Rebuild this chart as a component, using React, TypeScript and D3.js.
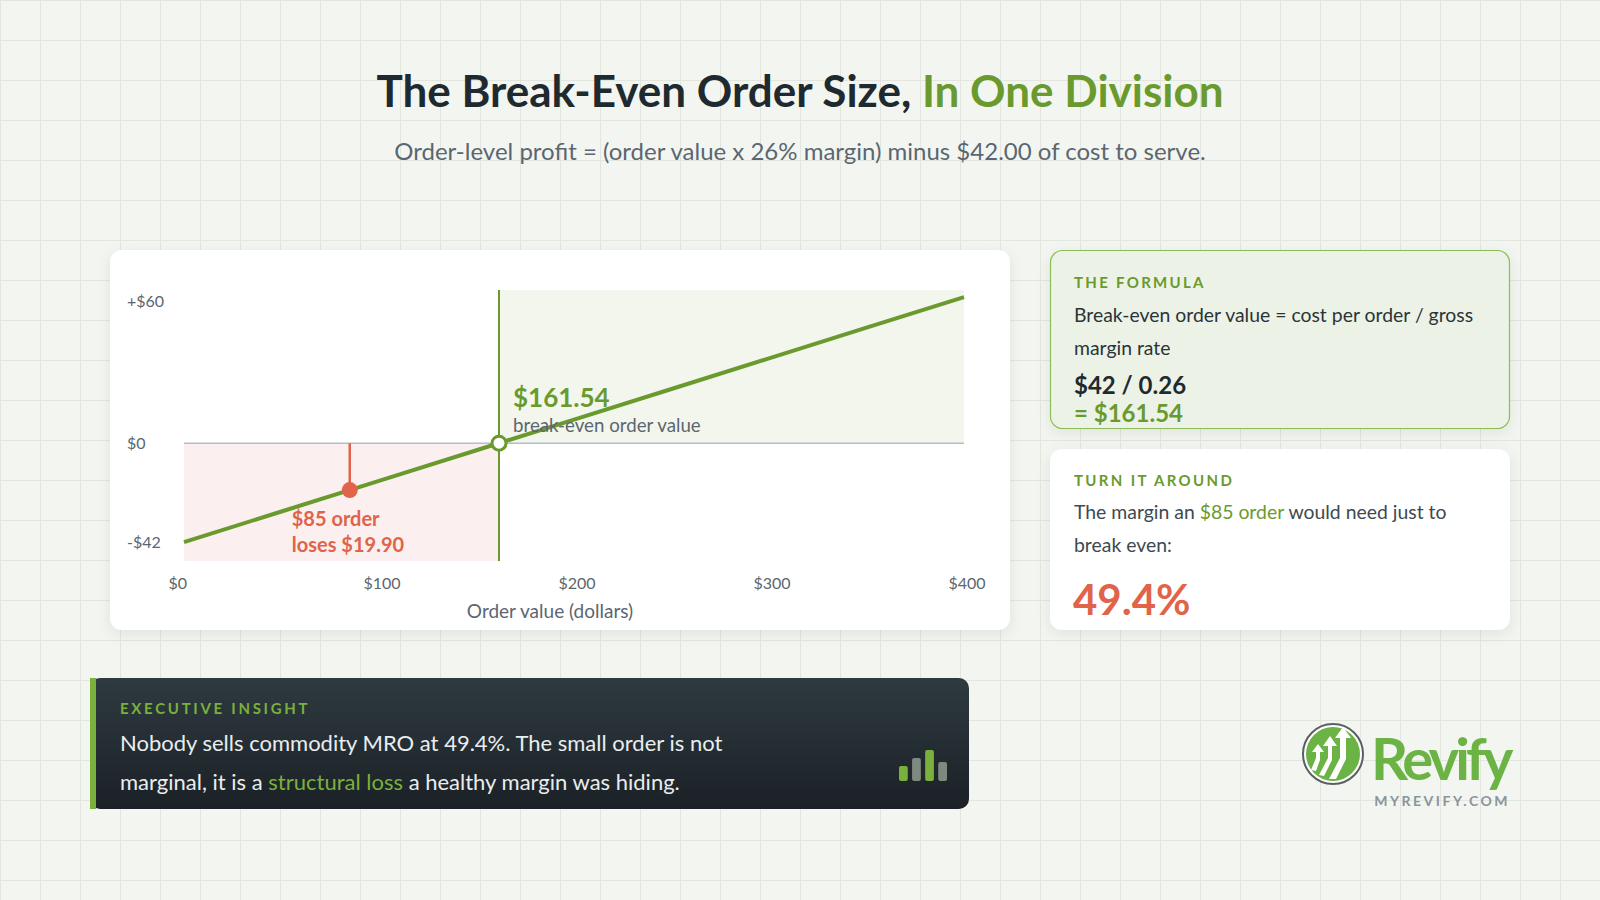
import React from 'react';
import * as d3 from 'd3';

// order value ($) vs order-level profit ($)
const orderValues = [0, 50, 100, 150, 200, 250, 300, 350, 400];
const profits = [-42, -29, -16, -3, 10, 23, 36, 49, 62];

const xTicks = [0, 100, 200, 300, 400];
const xTickLabels = ['$0', '$100', '$200', '$300', '$400'];
const yTicks = [60, 0, -42];
const yTickLabels = ['+$60', '$0', '-$42'];

const breakEvenValue = 161.54;
const sampleOrder = 85;
const sampleProfit = -19.9;

const insightBars = [15, 23, 31, 19];

const FONT = "Lato, 'Noto Sans', sans-serif";
const GREEN = '#6a9a2e';
const RED = '#e0634a';
const DARK = '#1f2a30';
const GREY = '#5b6670';

const W = 1600;
const H = 900;

const App: React.FC = () => {
  const x = d3.scaleLinear().domain([0, 400]).range([184, 964]);
  const y = d3.scaleLinear().domain([-50, 65]).range([561, 290]);

  const pts = orderValues.map((v, i) => [v, profits[i]] as [number, number]);
  const line = d3
    .line<[number, number]>()
    .x(d => x(d[0]))
    .y(d => y(d[1]));

  const gridX = d3.range(0, W + 1, 40);
  const gridY = d3.range(0, H + 1, 40);

  const barX = d3.scaleBand<number>().domain(d3.range(insightBars.length)).range([899, 947]).paddingInner(0.33);

  return (
    <svg
      width={W}
      height={H}
      style={{ position: 'absolute', left: 0, top: 0, fontFamily: FONT }}
    >
      <defs>
        <filter id="shadow" x="-10%" y="-10%" width="120%" height="130%">
          <feDropShadow dx="0" dy="4" stdDeviation="7" floodColor="#000" floodOpacity="0.08" />
        </filter>
        <linearGradient id="insightGrad" x1="0" y1="0" x2="0" y2="1">
          <stop offset="0%" stopColor="#2e3a40" />
          <stop offset="100%" stopColor="#1b2126" />
        </linearGradient>
      </defs>

      {/* background grid */}
      <rect width={W} height={H} fill="#f3f6f0" />
      {gridX.map(g => (
        <line key={'gx' + g} x1={g + 0.5} x2={g + 0.5} y1={0} y2={H} stroke="#e2e6df" strokeWidth={1} />
      ))}
      {gridY.map(g => (
        <line key={'gy' + g} x1={0} x2={W} y1={g + 0.5} y2={g + 0.5} stroke="#e2e6df" strokeWidth={1} />
      ))}

      {/* title */}
      <text x={800} y={107} textAnchor="middle" fontSize={44} fontWeight={700} fill={DARK}>
        The Break-Even Order Size, <tspan fill={GREEN}>In One Division</tspan>
      </text>
      <text x={800} y={160} textAnchor="middle" fontSize={24} fill={GREY}>
        Order-level profit = (order value x 26% margin) minus $42.00 of cost to serve.
      </text>

      {/* chart card */}
      <rect x={110} y={250} width={900} height={380} rx={12} fill="#fff" filter="url(#shadow)" />

      {/* loss / profit zones */}
      <rect
        x={x(0)}
        y={y(0)}
        width={x(breakEvenValue) - x(0)}
        height={y(-50) - y(0)}
        fill="#fbf0ef"
      />
      <rect
        x={x(breakEvenValue)}
        y={y(65)}
        width={x(400) - x(breakEvenValue)}
        height={y(0) - y(65)}
        fill="#f3f6ed"
      />

      {/* zero line */}
      <line x1={x(0)} x2={x(400)} y1={y(0)} y2={y(0)} stroke="#b3bec6" strokeWidth={1.5} />

      {/* break-even vertical */}
      <line x1={x(breakEvenValue)} x2={x(breakEvenValue)} y1={y(65)} y2={y(-50)} stroke={GREEN} strokeWidth={2} />

      {/* y tick labels */}
      {yTicks.map((t, i) => (
        <text key={'yt' + t} x={127} y={y(t)} dy="0.35em" fontSize={16} fill={GREY}>
          {yTickLabels[i]}
        </text>
      ))}

      {/* x tick labels */}
      {xTicks.map((t, i) => (
        <text
          key={'xt' + t}
          x={x(t) + 3}
          y={589}
          textAnchor={t === 0 ? 'end' : 'middle'}
          fontSize={16}
          fill={GREY}
        >
          {xTickLabels[i]}
        </text>
      ))}
      <text x={550} y={618} textAnchor="middle" fontSize={19} fill={GREY}>
        Order value (dollars)
      </text>

      {/* $85 drop line */}
      <line
        x1={x(sampleOrder)}
        x2={x(sampleOrder)}
        y1={y(0)}
        y2={y(sampleProfit)}
        stroke={RED}
        strokeWidth={2.5}
      />

      {/* profit line */}
      <path d={line(pts) || ''} fill="none" stroke={GREEN} strokeWidth={4} />

      {/* markers */}
      <circle cx={x(sampleOrder)} cy={y(sampleProfit)} r={8} fill={RED} />
      <circle cx={x(breakEvenValue)} cy={y(0)} r={7} fill="#fff" stroke={GREEN} strokeWidth={3} />

      {/* annotations */}
      <text x={x(breakEvenValue) + 14} y={407} fontSize={26} fontWeight={700} fill={GREEN}>
        $161.54
      </text>
      <text x={x(breakEvenValue) + 14} y={432} fontSize={18.7} fill={GREY}>
        break-even order value
      </text>
      <text x={x(sampleOrder) - 58} y={526} fontSize={20} fontWeight={700} fill={RED}>
        $85 order
      </text>
      <text x={x(sampleOrder) - 58} y={552} fontSize={20} fontWeight={700} fill={RED}>
        loses $19.90
      </text>

      {/* formula card */}
      <rect
        x={1050.5}
        y={250.5}
        width={459}
        height={178}
        rx={12}
        fill="#edf2e6"
        stroke="#8cbc55"
        strokeWidth={1.2}
        filter="url(#shadow)"
      />
      <text x={1074} y={288} fontSize={15} fontWeight={700} fill={GREEN} letterSpacing={2.3}>
        THE FORMULA
      </text>
      <text x={1074} y={322} fontSize={19.4} fill="#2a3439">
        Break-even order value = cost per order / gross
      </text>
      <text x={1074} y={355} fontSize={19.4} fill="#2a3439">
        margin rate
      </text>
      <text x={1074} y={394} fontSize={24} fontWeight={700} fill={DARK}>
        $42 / 0.26
      </text>
      <text x={1074} y={422} fontSize={24} fontWeight={700} fill={GREEN}>
        = $161.54
      </text>

      {/* turn it around card */}
      <rect x={1050} y={449} width={460} height={181} rx={12} fill="#fff" filter="url(#shadow)" />
      <text x={1074} y={486} fontSize={15} fontWeight={700} fill={GREEN} letterSpacing={2.35}>
        TURN IT AROUND
      </text>
      <text x={1074} y={519} fontSize={19.4} fill="#3e4950">
        The margin an <tspan fill={GREEN}>$85 order</tspan> would need just to
      </text>
      <text x={1074} y={552} fontSize={19.4} fill="#3e4950">
        break even:
      </text>
      <text x={1073} y={615} fontSize={42} fontWeight={700} fill={RED}>
        49.4%
      </text>

      {/* executive insight */}
      <rect x={90} y={678} width={879} height={131} rx={10} fill="url(#insightGrad)" />
      <rect x={90} y={678} width={6} height={131} fill="#7ab03c" />
      <text x={120} y={714} fontSize={15} fontWeight={700} fill="#7ab03c" letterSpacing={2.7}>
        EXECUTIVE INSIGHT
      </text>
      <text x={120} y={751} fontSize={22} fill="#e9edf0">
        Nobody sells commodity MRO at 49.4%. The small order is not
      </text>
      <text x={120} y={790} fontSize={22} fill="#e9edf0">
        marginal, it is a <tspan fill="#7ab03c">structural loss</tspan> a healthy margin was hiding.
      </text>
      {insightBars.map((h, i) => (
        <rect
          key={'ib' + i}
          x={barX(i)}
          y={781 - h}
          width={barX.bandwidth()}
          height={h}
          rx={2}
          fill={i % 2 === 0 ? '#7ab03c' : '#7e8a80'}
        />
      ))}

      {/* logo */}
      <g transform="translate(1333,754)">
        <circle r={30} fill="#fff" stroke="#595f63" strokeWidth={2} />
        <circle r={27} fill="#6ab344" />
        <g fill="#fff">
          <path d="M-22,16 L-17,4 L-17,-2 L-21,-2 L-15,-10 L-9,-2 L-13,-2 L-13,6 L-17,17 Z" />
          <path d="M-14,21 L-5,4 L-5,-8 L-10,-8 L-3,-18 L4,-8 L-1,-8 L-1,6 L-9,22 Z" />
          <path d="M-4,25 L7,4 L7,-16 L2,-16 L10,-27 L18,-16 L13,-16 L13,5 L3,25 Z" />
        </g>
      </g>
      <text x={1371} y={780} fontSize={58} fontWeight={700} fill="#6ab344" letterSpacing={-4}>
        Revify
      </text>
      <text x={1510} y={806} textAnchor="end" fontSize={14} fontWeight={700} fill="#8a949b" letterSpacing={2.5}>
        MYREVIFY.COM
      </text>
    </svg>
  );
};

export default App;
